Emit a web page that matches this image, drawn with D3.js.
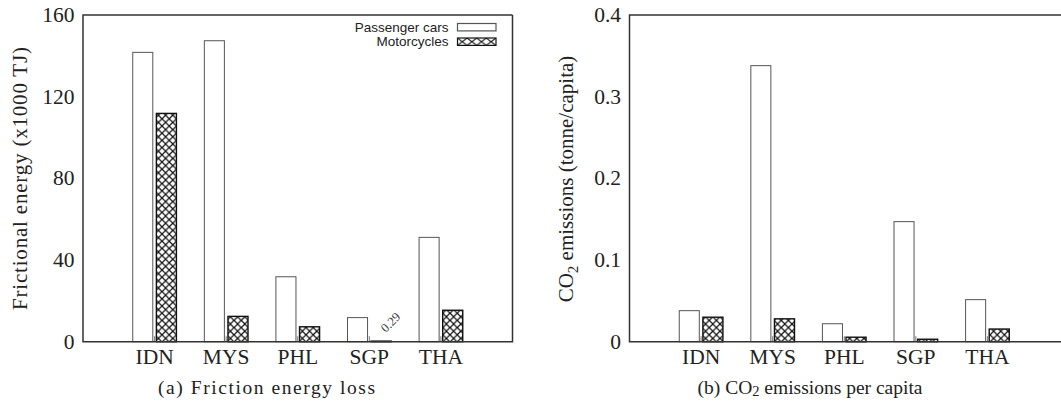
<!DOCTYPE html>
<html><head><meta charset="utf-8">
<script src="https://cdn.jsdelivr.net/npm/d3@7"></script>
<style>body{margin:0;background:#fff}svg{display:block}</style>
</head><body>
<svg id="c" width="1061" height="404"></svg>
<script>
const categories = ["IDN","MYS","PHL","SGP","THA"];
const seriesNames = ["Passenger cars","Motorcycles"];
const energyCars = [141.7,147.4,31.8,11.8,51.1];
const energyMoto = [111.8,12.4,7.3,0.29,15.4];
const co2Cars = [0.038,0.338,0.022,0.147,0.0515];
const co2Moto = [0.030,0.028,0.0055,0.003,0.0155];
const energyTicks = [0,40,80,120,160];
const co2Ticks = [0,0.1,0.2,0.3,0.4];
const energyLabel = {cat:"SGP", text:"0.29"};

const svg = d3.select("#c");
const serif = "Liberation Serif";
const sans = "Liberation Sans";

const defs = svg.append("defs");
function hatch(id, w, h, x0, y0){
  const p = defs.append("pattern").attr("id",id).attr("patternUnits","userSpaceOnUse")
    .attr("width",w).attr("height",h).attr("x",x0||0).attr("y",y0||0);
  p.append("rect").attr("width",w).attr("height",h).attr("fill","#fff");
  p.append("path").attr("d",`M0,0L${w},${h}M0,${h}L${w},0`).attr("stroke","#111").attr("stroke-width",1.25).attr("fill","none");
}
hatch("xh",7.2,7.2,0,0);

function panel(opt){
  const {left, top, bottom, frameRight, cars, moto, ticks, ymax, fmt} = opt;
  const x = d3.scaleLinear().domain([-1,5]).range([left, left+429.5]);
  const y = d3.scaleLinear().domain([0,ymax]).range([bottom, top]);
  const g = svg.append("g");
  const bw = 0.28, gap = 0.025;
  g.selectAll("rect.car").data(cars).join("rect").attr("class","car")
    .attr("x",(d,i)=>x(i-gap-bw)).attr("width",(d,i)=>x(i-gap)-x(i-gap-bw))
    .attr("y",d=>y(d)).attr("height",d=>y(0)-y(d))
    .attr("fill","#fff").attr("stroke","#555").attr("stroke-width",1);
  g.selectAll("rect.moto").data(moto).join("rect").attr("class","moto")
    .attr("x",(d,i)=>x(i+gap)).attr("width",(d,i)=>x(i+gap+bw)-x(i+gap))
    .attr("y",d=>y(d)).attr("height",d=>Math.max(0.6,y(0)-y(d)))
    .attr("fill","url(#xh)").attr("stroke","#111").attr("stroke-width",1.4);
  g.selectAll("line.xt").data(categories).join("line").attr("class","xt")
    .attr("x1",(d,i)=>x(i)).attr("x2",(d,i)=>x(i)).attr("y1",y(0)).attr("y2",y(0)-5.5)
    .attr("stroke","#777").attr("stroke-width",1);
  g.append("path").attr("d",`M${frameRight},${top}H${left}V${bottom}H${frameRight}` + (opt.closeRight?`V${top}`:""))
    .attr("fill","none").attr("stroke","#333").attr("stroke-width",1.5);
  g.selectAll("text.yt").data(ticks).join("text").attr("class","yt")
    .attr("x",left-8.5).attr("y",d=>y(d)).attr("dy","0.33em")
    .attr("text-anchor","end").style("font-family",serif).attr("font-size",21.5).attr("fill","#222")
    .text(fmt);
  g.selectAll("text.cat").data(categories).join("text").attr("class","cat")
    .attr("x",(d,i)=>x(i)).attr("y",bottom+21.8).attr("text-anchor","middle")
    .style("font-family",serif).attr("font-size",21.5).attr("fill","#222").text(d=>d);
  return {x,y,g};
}

const A = panel({left:83, top:15, bottom:341.7, frameRight:512.5, closeRight:true,
  cars:energyCars, moto:energyMoto, ticks:energyTicks, ymax:160, fmt:d=>d});
{
  const i = categories.indexOf(energyLabel.cat);
  const lx = A.x(i+0.23), ly = A.y(energyMoto[i]) - 8;
  A.g.append("text").attr("transform",`translate(${lx},${ly}) rotate(-45)`)
    .style("font-family",serif).attr("font-size",12.5).attr("fill","#333").text(energyLabel.text);
}
A.g.append("text").attr("transform","translate(27,178.5) rotate(-90)").attr("text-anchor","middle")
  .style("font-family",serif).attr("font-size",21).attr("fill","#222")
  .attr("textLength",263).attr("lengthAdjust","spacing").text("Frictional energy (x1000 TJ)");
A.g.append("text").attr("x",266.5).attr("y",394).attr("text-anchor","middle")
  .style("font-family",serif).attr("font-size",19.5).attr("fill","#222")
  .attr("textLength",217).attr("lengthAdjust","spacing").text("(a) Friction energy loss");
{
  const lg = A.g.append("g");
  const rows = [{name:seriesNames[0], fill:"#fff", stroke:"#555", y:23.5},
                {name:seriesNames[1], fill:"url(#xhl)", stroke:"#111", y:38}];
  const p = defs.append("pattern").attr("id","xhl").attr("patternUnits","userSpaceOnUse")
    .attr("x",457.5).attr("y",38).attr("width",9.6).attr("height",7.4);
  p.append("rect").attr("width",9.6).attr("height",7.4).attr("fill","#fff");
  p.append("path").attr("d","M0,0L9.6,7.4M0,7.4L9.6,0").attr("stroke","#111").attr("stroke-width",1.1);
  rows.forEach(r=>{
    lg.append("rect").attr("x",457.5).attr("y",r.y).attr("width",38.5).attr("height",7.4)
      .attr("fill",r.fill).attr("stroke",r.stroke).attr("stroke-width",1.2);
    lg.append("text").attr("x",448.5).attr("y",r.y+8.4).attr("text-anchor","end")
      .style("font-family",sans).attr("font-size",13.5).attr("fill","#222").text(r.name);
  });
}

const B = panel({left:629.5, top:15, bottom:341.7, frameRight:1064, closeRight:false,
  cars:co2Cars, moto:co2Moto, ticks:co2Ticks, ymax:0.4, fmt:d=>d===0?"0":d3.format(".1f")(d)});
{
  const t = B.g.append("text").attr("transform","translate(573,179) rotate(-90)").attr("text-anchor","middle")
    .style("font-family",serif).attr("font-size",21).attr("fill","#222");
  t.append("tspan").text("CO");
  t.append("tspan").attr("font-size",15).attr("dy",5).text("2");
  t.append("tspan").attr("dy",-5).text(" emissions (tonne/capita)");
}
{
  const t = B.g.append("text").attr("x",810).attr("y",394).attr("text-anchor","middle")
    .style("font-family",serif).attr("font-size",19.5).attr("fill","#222");
  t.append("tspan").text("(b) CO");
  t.append("tspan").attr("font-size",14.5).attr("dy",2).text("2");
  t.append("tspan").attr("dy",-2).text(" emissions per capita");
}
</script>
</body></html>
